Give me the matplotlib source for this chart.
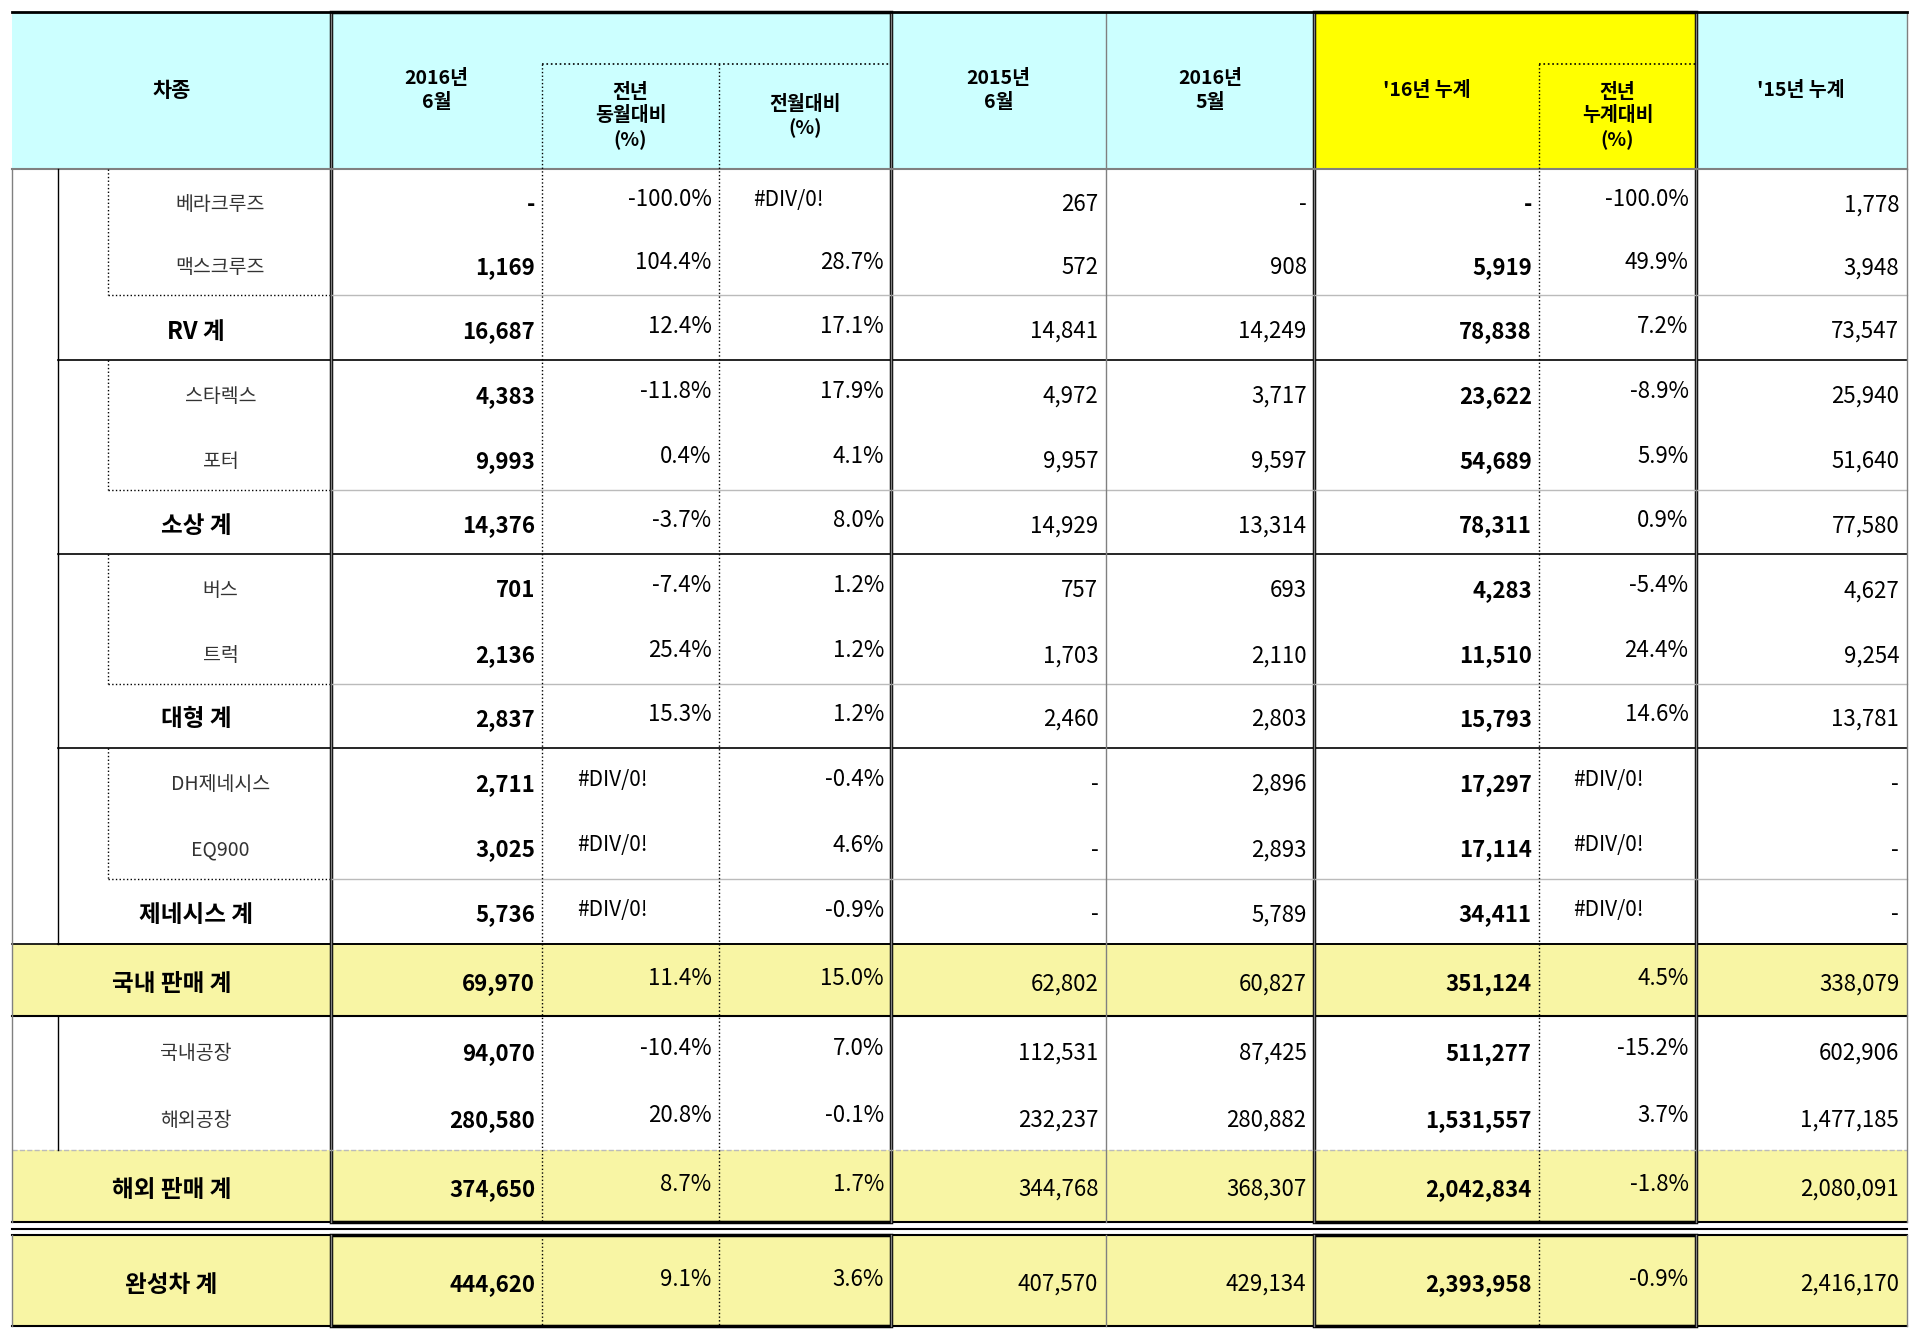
import matplotlib.pyplot as plt
from matplotlib.patches import Rectangle

plt.rcParams['font.family'] = ['Noto Sans CJK KR', 'DejaVu Sans']

# 데이터
names = ['베라크루즈', '맥스크루즈', 'RV 계', '스타렉스', '포터', '소상 계', '버스', '트럭', '대형 계',
         'DH제네시스', 'EQ900', '제네시스 계', '국내 판매 계', '국내공장', '해외공장', '해외 판매 계', '완성차 계']
kind = ['sub', 'sub', 'tot', 'sub', 'sub', 'tot', 'sub', 'sub', 'tot',
        'sub', 'sub', 'tot', 'grand', 'sub2', 'sub2', 'grand', 'final']
jun16 = ['-', '1,169', '16,687', '4,383', '9,993', '14,376', '701', '2,136', '2,837',
         '2,711', '3,025', '5,736', '69,970', '94,070', '280,580', '374,650', '444,620']
yoy = ['-100.0%', '104.4%', '12.4%', '-11.8%', '0.4%', '-3.7%', '-7.4%', '25.4%', '15.3%',
       '#DIV/0!', '#DIV/0!', '#DIV/0!', '11.4%', '-10.4%', '20.8%', '8.7%', '9.1%']
mom = ['#DIV/0!', '28.7%', '17.1%', '17.9%', '4.1%', '8.0%', '1.2%', '1.2%', '1.2%',
       '-0.4%', '4.6%', '-0.9%', '15.0%', '7.0%', '-0.1%', '1.7%', '3.6%']
jun15 = ['267', '572', '14,841', '4,972', '9,957', '14,929', '757', '1,703', '2,460',
         '-', '-', '-', '62,802', '112,531', '232,237', '344,768', '407,570']
may16 = ['-', '908', '14,249', '3,717', '9,597', '13,314', '693', '2,110', '2,803',
         '2,896', '2,893', '5,789', '60,827', '87,425', '280,882', '368,307', '429,134']
ytd16 = ['-', '5,919', '78,838', '23,622', '54,689', '78,311', '4,283', '11,510', '15,793',
         '17,297', '17,114', '34,411', '351,124', '511,277', '1,531,557', '2,042,834', '2,393,958']
ytdchg = ['-100.0%', '49.9%', '7.2%', '-8.9%', '5.9%', '0.9%', '-5.4%', '24.4%', '14.6%',
          '#DIV/0!', '#DIV/0!', '#DIV/0!', '4.5%', '-15.2%', '3.7%', '-1.8%', '-0.9%']
ytd15 = ['1,778', '3,948', '73,547', '25,940', '51,640', '77,580', '4,627', '9,254', '13,781',
         '-', '-', '-', '338,079', '602,906', '1,477,185', '2,080,091', '2,416,170']

cols = [jun16, yoy, mom, jun15, may16, ytd16, ytdchg, ytd15]
xs = [10, 270, 443, 587, 728, 903, 1073, 1257, 1385, 1557]
bold_cols = {0, 5}
headers = ['2016년\n6월', '전년\n동월대비\n(%)', '전월대비\n(%)', '2015년\n6월', '2016년\n5월',
           "'16년 누계", '전년\n누계대비\n(%)', "'15년 누계"]

# 행 위치 (y top, bottom)
rows = [(138, 190), (190, 241), (241, 294), (294, 347), (347, 400), (400, 452), (452, 506),
        (506, 558), (558, 610), (610, 664), (664, 717), (717, 770), (770, 829), (829, 884),
        (884, 938), (938, 997), (1008, 1082)]

fig = plt.figure(figsize=(19.2, 13.36), dpi=100)
ax = fig.add_axes([0, 0, 1, 1])
ax.set_xlim(0, 1568)
ax.set_ylim(1090, 0)
ax.axis('off')

cyan = '#CCFFFF'
lyellow = '#F8F5A4'
gray = '#808080'

# 헤더
ax.add_patch(Rectangle((10, 10), 1547, 128, color=cyan, lw=0))
ax.add_patch(Rectangle((1073, 10), 312, 128, color='#FFFF00', lw=0))
ax.text(140, 74, '차종', ha='center', va='center', fontsize=15, fontweight='bold')
for i, h in enumerate(headers):
    cx = (xs[i + 1] + xs[i + 2]) / 2
    cy = 74 if i not in (1, 2, 6) else 95
    ax.text(cx, cy, h, ha='center', va='center', fontsize=14, fontweight='bold',
            linespacing=1.3)
for x in [270, 728, 903, 1073, 1385, 1557]:
    ax.plot([x, x], [10, 138], color=gray, lw=1)
ax.plot([10, 1557], [138, 138], color=gray, lw=1.5)
ax.plot([10, 1557], [10, 10], color='black', lw=2)
# 헤더 내 점선 박스
for x0, x1 in [(443, 728), (1257, 1385)]:
    ax.plot([x0, x1], [52, 52], color='black', lw=1.2, ls=':')

# 행
for r, (y0, y1) in enumerate(rows):
    k = kind[r]
    if k in ('grand', 'final'):
        ax.add_patch(Rectangle((10, y0), 1547, y1 - y0, color=lyellow, lw=0))
    cy = (y0 + y1) / 2 + 3
    if k == 'sub':
        ax.text(180, cy, names[r], ha='center', va='center', fontsize=14, color='#333333')
    elif k == 'sub2':
        ax.text(160, cy, names[r], ha='center', va='center', fontsize=14, color='#333333')
    elif k == 'tot':
        ax.text(160, cy, names[r], ha='center', va='center', fontsize=17, fontweight='bold')
    else:
        ax.text(140, cy, names[r], ha='center', va='center', fontsize=17, fontweight='bold')
    for j, col in enumerate(cols):
        v = col[r]
        right = xs[j + 2] - 6
        left = xs[j + 1] + 8
        w = 'bold' if j in bold_cols else 'normal'
        if v.startswith('#'):
            ax.text(left + 20, cy - 4, v, ha='left', va='center', fontsize=15)
        else:
            ax.text(right, cy - (4 if '%' in v else 0), v, ha='right', va='center',
                    fontsize=16, fontweight=w)

# 가로선
for r, (y0, y1) in enumerate(rows):
    k = kind[r]
    if k == 'sub' and r + 1 < len(rows) and kind[r + 1] == 'tot':
        ax.plot([88, 270], [y1, y1], color='black', lw=1, ls=':')
        ax.plot([270, 1557], [y1, y1], color='#BBBBBB', lw=1)
    elif k == 'tot':
        ax.plot([47, 1557], [y1, y1], color='black', lw=1.2)
    elif k in ('grand', 'final'):
        ax.plot([10, 1557], [y1, y1], color='black', lw=1.5)
    elif k == 'sub2' and r + 1 < len(rows) and kind[r + 1] == 'grand':
        ax.plot([10, 1557], [y1, y1], color='#BBBBBB', lw=1, ls='--')
ax.plot([10, 1557], [770, 770], color='black', lw=1.2)
ax.plot([10, 1557], [1003, 1003], color='black', lw=1.5)
ax.plot([10, 1557], [1008, 1008], color='black', lw=1.5)

# 세로선
for x in [10, 270, 728, 903, 1073, 1385, 1557]:
    ax.plot([x, x], [138, 997], color=gray, lw=1)
    ax.plot([x, x], [1008, 1082], color=gray, lw=1)
for x in [443, 587, 1257]:
    ax.plot([x, x], [52, 997], color='black', lw=1, ls=':')
    ax.plot([x, x], [1008, 1082], color='black', lw=1, ls=':')
# 들여쓰기선
for (a, b) in [(138, 294), (294, 452), (452, 610), (610, 770), (829, 938)]:
    ax.plot([47, 47], [a, b], color='black', lw=1)
for (a, b) in [(138, 241), (294, 400), (452, 558), (610, 717)]:
    ax.plot([88, 88], [a, b], color='black', lw=1, ls=':')

# 굵은 테두리
for x0, x1 in [(270, 728), (1073, 1385)]:
    for ya, yb in [(10, 997), (1008, 1082)]:
        ax.add_patch(Rectangle((x0, ya), x1 - x0, yb - ya, fill=False, ec='black', lw=2.5))

fig.savefig('out.png', dpi=100)
